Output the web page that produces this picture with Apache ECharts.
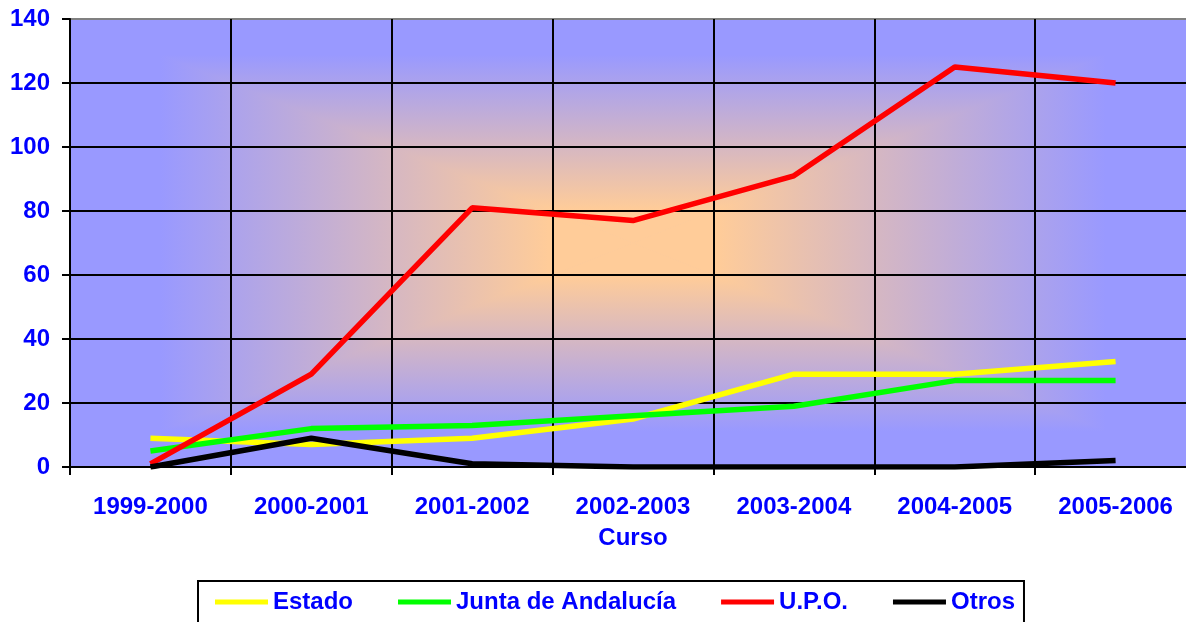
<!DOCTYPE html>
<html>
<head>
<meta charset="utf-8">
<script src="https://cdn.jsdelivr.net/npm/echarts@6/dist/echarts.min.js"></script>
<style>
html,body{margin:0;padding:0;background:#fff;}
#chart{width:1186px;height:622px;}
</style>
</head>
<body>
<div id="chart"></div>
<script>
var categories = ['1999-2000','2000-2001','2001-2002','2002-2003','2003-2004','2004-2005','2005-2006'];
var estado = [9, 7, 9, 15, 29, 29, 33];
var junta = [5, 12, 13, 16, 19, 27, 27];
var upo = [1, 29, 81, 77, 91, 125, 120];
var otros = [0, 9, 1, 0, 0, 0, 2];
var seriesNames = ['Estado', 'Junta de Andalucía', 'U.P.O.', 'Otros'];
var seriesColors = ['#FFFF00', '#00FF00', '#FF0000', '#000000'];
var seriesData = [estado, junta, upo, otros];

var chart = echarts.init(document.getElementById('chart'));
var FONT = 'Liberation Sans, Arial, sans-serif';
var BLUE = '#0000FF';
var gridLeft = 70, gridTop = 19, gridW = 1126, gridH = 448;

// Rectangular "from center" gradient background made of 4 triangles
var L = gridLeft, T = gridTop, R = gridLeft + gridW, B = gridTop + gridH;
var cx = (L + R) / 2, cy = (T + B) / 2;
var stops = [
  { offset: 0, color: '#FFCC99' },
  { offset: 0.15, color: '#FFCC99' },
  { offset: 0.84, color: '#9999FF' },
  { offset: 1, color: '#9999FF' }
];
function tri(pts, ex, ey) {
  var g = new echarts.graphic.LinearGradient(cx, cy, ex, ey, stops, true);
  return {
    type: 'polygon', shape: { points: pts },
    style: { fill: g, stroke: g, lineWidth: 1 },
    z: -10, silent: true
  };
}
var bgGraphics = [
  { type: 'rect', shape: { x: L, y: T, width: R - L, height: B - T }, style: { fill: '#9999FF' }, z: -11, silent: true },
  tri([[cx, cy], [L, T], [R, T]], cx, T),
  tri([[cx, cy], [L, B], [R, B]], cx, B),
  tri([[cx, cy], [L, T], [L, B]], L, cy),
  tri([[cx, cy], [R, T], [R, B]], R, cy)
];

var option = {
  animation: false,
  textStyle: { fontFamily: FONT },
  graphic: bgGraphics,
  grid: { left: gridLeft, top: gridTop, width: gridW, height: gridH, containLabel: false, outerBoundsMode: 'none' },
  legend: {
    left: 198, top: 581,
    padding: [9, 9, 20, 17],
    borderColor: '#000', borderWidth: 2,
    icon: 'rect', itemWidth: 53, itemHeight: 5, itemGap: 45,
    textStyle: { color: BLUE, fontSize: 24, fontWeight: 'bold', fontFamily: FONT },
    data: seriesNames
  },
  xAxis: {
    type: 'category',
    data: categories,
    boundaryGap: true,
    name: 'Curso',
    nameLocation: 'middle',
    nameGap: 59,
    nameTextStyle: { color: BLUE, fontSize: 24, fontWeight: 'bold' },
    axisLine: { show: true, lineStyle: { color: '#000', width: 2 } },
    axisTick: { show: true, length: 8, lineStyle: { color: '#000', width: 2 } },
    axisLabel: { color: BLUE, fontSize: 24, fontWeight: 'bold', margin: 28, interval: 0 },
    splitLine: { show: true, lineStyle: { color: '#000', width: 2 } }
  },
  yAxis: {
    type: 'value',
    min: 0, max: 140, interval: 20,
    axisLine: { show: true, lineStyle: { color: '#000', width: 2 } },
    axisTick: { show: true, length: 8, lineStyle: { color: '#000', width: 2 } },
    axisLabel: { color: BLUE, fontSize: 24, fontWeight: 'bold', margin: 20 },
    splitLine: { show: true, lineStyle: { color: ['#000','#000','#000','#000','#000','#000','#000','#808080'], width: 2 } }
  },
  series: seriesNames.map(function (n, i) {
    return {
      name: n, type: 'line', data: seriesData[i],
      showSymbol: false, symbol: 'none',
      color: seriesColors[i],
      lineStyle: { color: seriesColors[i], width: 5.5 }
    };
  })
};
chart.setOption(option);
</script>
</body>
</html>
